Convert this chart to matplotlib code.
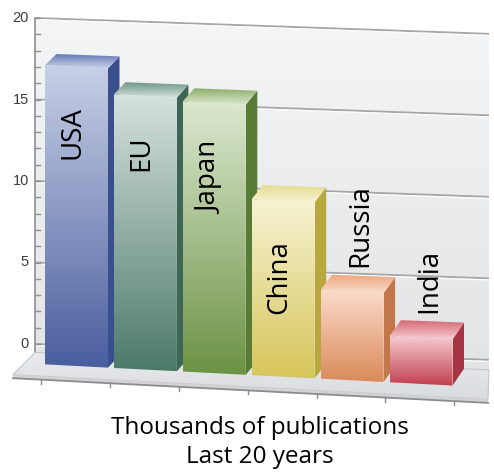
import numpy as np
import matplotlib
matplotlib.use("Agg")
import matplotlib.pyplot as plt
from matplotlib.patches import Polygon
from matplotlib.colors import to_rgb

# publications per country, thousands
countries = ["USA", "EU", "Japan", "China", "Russia", "India"]
publications = [17.5, 16.0, 15.8, 10.3, 5.2, 2.7]
y_ticks = [0, 5, 10, 15, 20]
title_lines = ["Thousands of publications", "Last 20 years"]

# front face gradient (top, bottom), top face and side face colours
front_light = ["#c8d0e6", "#d6e2dc", "#dce8d0", "#f7f3d4", "#fcdccc", "#f5cbd0"]
front_dark = ["#4a5e9e", "#4c7a68", "#6b9244", "#d6c55a", "#da8a58", "#c23e4e"]
top_colors = ["#5c74b2", "#6e9686", "#8eae6a", "#e4da8e", "#eba47c", "#d4646e"]
side_colors = ["#3a4f8e", "#3e6656", "#587c36", "#b8a83e", "#c2784a", "#a63444"]

# canvas geometry (pixels)
W, H = 494, 472
CAT_PX = 68.9      # pixels per category
VAL_PX = 17.1      # pixels per value unit on the bar plane
X0_PX, Y0_PX = 76.5, 366.0

DX = 11.5 / CAT_PX   # depth shift per unit depth
DY = 12.0 / VAL_PX
HALF = 31.5 / CAT_PX

# back wall value scale
WALL_LEFT = (35 - X0_PX) / CAT_PX
WALL_RIGHT = (489 - X0_PX) / CAT_PX
WALL_Y0 = (Y0_PX - 344) / VAL_PX
WALL_SCALE = 16.3 / VAL_PX
WALL_SLOPE = -0.035 * CAT_PX / VAL_PX


def plane_y(X, v, z):
    s = (0.052 - 0.014 * max(z, 0)) * CAT_PX / VAL_PX
    return v + DY * z - s * X


def P(x, v, z):
    X = x + DX * z
    return X, plane_y(X, v, z)


def wall_y(X, w):
    return WALL_Y0 + WALL_SCALE * w + WALL_SLOPE * (X - WALL_LEFT)


def grad_fill(ax, pts, c_top, c_bot, zorder):
    poly = Polygon(pts, closed=True, facecolor="none", edgecolor="none", zorder=zorder)
    ax.add_patch(poly)
    xs, ys = zip(*pts)
    t = np.linspace(0, 1, 256)[:, None]
    rgb = (1 - t) * np.array(to_rgb(c_top)) + t * np.array(to_rgb(c_bot))
    im = ax.imshow(rgb[:, None, :], extent=(min(xs), max(xs), min(ys), max(ys)),
                   origin="upper", aspect="auto", interpolation="bilinear", zorder=zorder)
    im.set_clip_path(poly)


fig = plt.figure(figsize=(W / 100, H / 100), dpi=100)
ax = fig.add_axes([0, 0, 1, 1])

# back wall
wall = [(WALL_LEFT, plane_y(WALL_LEFT, 0, 1)), (WALL_RIGHT, plane_y(WALL_RIGHT, 0, 1)),
        (WALL_RIGHT, wall_y(WALL_RIGHT, 20)), (WALL_LEFT, wall_y(WALL_LEFT, 20))]
grad_fill(ax, wall, "#f4f5f6", "#e2e4e6", 1)

for w in range(0, 21, 5):
    xs = [WALL_LEFT, WALL_RIGHT]
    ax.plot(xs, [wall_y(x, w) for x in xs], color="#a4a6a8", lw=1.4, zorder=2,
            solid_capstyle="butt")
    ax.plot(xs, [wall_y(x, w) - 1.6 / VAL_PX for x in xs], color="#fbfbfb", lw=1.0,
            zorder=2, solid_capstyle="butt")

# value axis on the left edge of the wall
ax.plot([WALL_LEFT, WALL_LEFT], [plane_y(WALL_LEFT, 0, 1), wall_y(WALL_LEFT, 20)],
        color="#8e9092", lw=1.2, zorder=3)
for w in range(0, 21):
    ax.plot([WALL_LEFT, WALL_LEFT + 5 / CAT_PX], [wall_y(WALL_LEFT, w)] * 2,
            color="#8e9092", lw=1.0, zorder=3)
for w in y_ticks:
    ax.text(WALL_LEFT - 6 / CAT_PX, wall_y(WALL_LEFT, w), str(w), ha="right", va="center",
            fontsize=10.5, color="#3c3c3c", family="Liberation Sans")

# floor
XF_LEFT = (13 - X0_PX) / CAT_PX
XF_RIGHT = (488 - X0_PX) / CAT_PX
floor = [(XF_LEFT, plane_y(XF_LEFT, 0, -1)), (WALL_LEFT, plane_y(WALL_LEFT, 0, 1)),
         (WALL_RIGHT, plane_y(WALL_RIGHT, 0, 1)), (XF_RIGHT, plane_y(XF_RIGHT, 0, -1))]
grad_fill(ax, floor, "#e9ebed", "#d9dcdf", 4)
ax.add_patch(Polygon(floor, closed=True, facecolor="none", edgecolor="#c4c6c8", lw=0.8, zorder=4))
thick = 3.5 / VAL_PX
strip = [(XF_LEFT, plane_y(XF_LEFT, 0, -1)), (XF_RIGHT, plane_y(XF_RIGHT, 0, -1)),
         (XF_RIGHT, plane_y(XF_RIGHT, 0, -1) - thick), (XF_LEFT, plane_y(XF_LEFT, 0, -1) - thick)]
ax.add_patch(Polygon(strip, closed=True, facecolor="#d0d2d4", edgecolor="none", zorder=4))
ax.plot([XF_LEFT, XF_RIGHT], [plane_y(XF_LEFT, 0, -1) - thick, plane_y(XF_RIGHT, 0, -1) - thick],
        color="#8a8c8e", lw=1.3, zorder=4)
for i in range(len(countries) + 1):
    X = i - 0.5 - 0.1 * DX
    y0 = plane_y(X, 0, -1) - thick
    ax.plot([X, X], [y0, y0 - 4 / VAL_PX], color="#8a8c8e", lw=1.0, zorder=4)

# bars, left to right so each front face hides the previous side
for i, (name, v) in enumerate(zip(countries, publications)):
    zb = 10 + i
    side = [P(i + HALF, 0, 0), P(i + HALF, 0, 1), P(i + HALF, v, 1), P(i + HALF, v, 0)]
    grad_fill(ax, side, side_colors[i], side_colors[i], zb)
    top = [P(i - HALF, v, 0), P(i + HALF, v, 0), P(i + HALF, v, 1), P(i - HALF, v, 1)]
    grad_fill(ax, top, top_colors[i], front_light[i], zb)
    front = [P(i - HALF, 0, 0), P(i + HALF, 0, 0), P(i + HALF, v, 0), P(i - HALF, v, 0)]
    grad_fill(ax, front, front_light[i], front_dark[i], zb)

    if v > 8:
        X, Y = P(i - 0.06, v - 2.3, 0)
        va = "top"
    else:
        X, Y = P(i + 0.03, v + 1.0, 0.5)
        va = "bottom"
    ax.text(X, Y, name, rotation=90, ha="center", va=va, fontsize=20,
            family="Open Sans", color="black", zorder=30)

for k, line in enumerate(title_lines):
    fig.text(260 / W, 1 - (434 + 29 * k) / H, line, ha="center", va="baseline",
             fontsize=17.5, family="Open Sans", color="black")

ax.set_xlim(-X0_PX / CAT_PX, (W - X0_PX) / CAT_PX)
ax.set_ylim((Y0_PX - H) / VAL_PX, Y0_PX / VAL_PX)
ax.axis("off")

fig.savefig("out.png", dpi=100)
